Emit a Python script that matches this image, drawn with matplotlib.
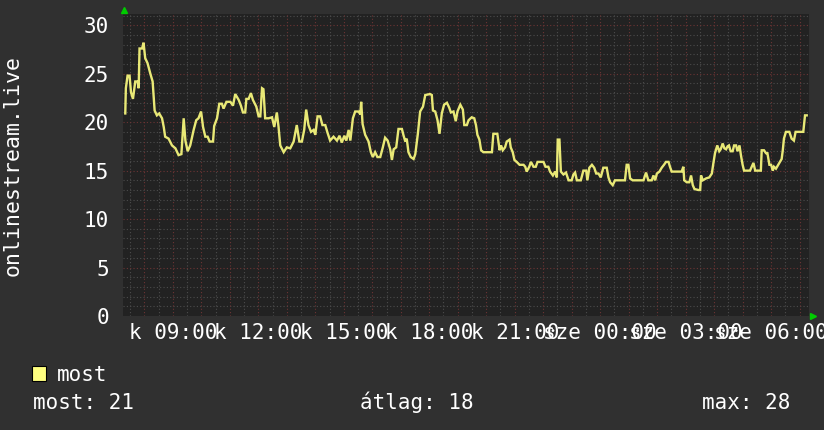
import numpy as np
import matplotlib
matplotlib.use("Agg")
import matplotlib.pyplot as plt
from matplotlib.patches import Rectangle

# hours since Tuesday 00:00 (24 h window) and viewer counts
hours = [
    7.33, 7.35, 7.41, 7.48, 7.53, 7.60, 7.68, 7.76, 7.80, 7.83, 7.92, 7.97,
    8.03, 8.11, 8.21, 8.29, 8.36, 8.44, 8.52, 8.62, 8.68, 8.73, 8.85, 8.97,
    9.09, 9.20, 9.30, 9.38, 9.44, 9.52, 9.61, 9.73, 9.82, 9.90, 9.99, 10.06,
    10.14, 10.22, 10.29, 10.41, 10.45, 10.55, 10.63, 10.72, 10.78, 10.88, 11.02, 11.11,
    11.19, 11.31, 11.39, 11.46, 11.54, 11.58, 11.66, 11.74, 11.81, 11.93, 12.01, 12.07,
    12.13, 12.18, 12.24, 12.36, 12.48, 12.56, 12.65, 12.71, 12.77, 12.89, 13.00, 13.12,
    13.24, 13.35, 13.44, 13.53, 13.61, 13.68, 13.76, 13.85, 13.94, 14.00, 14.08, 14.17,
    14.25, 14.35, 14.43, 14.52, 14.64, 14.76, 14.85, 14.93, 15.02, 15.09, 15.17, 15.23,
    15.32, 15.40, 15.52, 15.58, 15.61, 15.66, 15.75, 15.87, 15.95, 16.02, 16.10, 16.18,
    16.28, 16.37, 16.45, 16.54, 16.63, 16.69, 16.75, 16.84, 16.92, 17.04, 17.10, 17.16,
    17.21, 17.27, 17.35, 17.45, 17.51, 17.60, 17.68, 17.78, 17.86, 18.03, 18.09, 18.13,
    18.21, 18.29, 18.36, 18.44, 18.52, 18.62, 18.70, 18.76, 18.85, 18.93, 18.99, 19.09,
    19.18, 19.23, 19.32, 19.38, 19.49, 19.58, 19.64, 19.69, 19.76, 19.82, 19.90, 20.20,
    20.25, 20.39, 20.47, 20.52, 20.58, 20.66, 20.72, 20.82, 20.86, 20.93, 20.99, 21.07,
    21.17, 21.31, 21.37, 21.42, 21.51, 21.57, 21.66, 21.74, 21.80, 22.01, 22.08, 22.18,
    22.24, 22.34, 22.42, 22.48, 22.51, 22.57, 22.62, 22.71, 22.80, 22.89, 23.00, 23.06,
    23.12, 23.18, 23.32, 23.41, 23.51, 23.55, 23.62, 23.71, 23.79, 23.86, 23.94, 24.02,
    24.11, 24.23, 24.29, 24.35, 24.44, 24.52, 24.87, 24.93, 24.99, 25.05, 25.14, 25.52,
    25.61, 25.69, 25.81, 25.87, 25.93, 25.99, 26.08, 26.16, 26.24, 26.31, 26.40, 26.45,
    26.51, 26.86, 26.92, 26.95, 27.04, 27.13, 27.19, 27.25, 27.31, 27.45, 27.51, 27.54,
    27.60, 27.72, 27.83, 27.92, 27.97, 28.03, 28.11, 28.18, 28.23, 28.30, 28.36, 28.42,
    28.47, 28.52, 28.58, 28.65, 28.70, 28.77, 28.82, 28.89, 28.94, 29.00, 29.05, 29.26,
    29.32, 29.38, 29.44, 29.64, 29.67, 29.75, 29.82, 29.87, 29.94, 30.00, 30.06, 30.10,
    30.17, 30.25, 30.31, 30.37, 30.41, 30.45, 30.52, 30.64, 30.72, 30.80, 30.86, 31.13,
    31.19, 31.25,
]
viewers = [
    20.9, 23.5, 24.8, 24.8, 23.1, 22.4, 24.2, 24.2, 23.5, 27.6, 27.6, 28.2,
    26.6, 26.1, 25.0, 24.2, 21.2, 20.7, 20.9, 20.4, 19.5, 18.5, 18.3, 17.6,
    17.3, 16.6, 16.7, 20.4, 18.1, 17.0, 17.6, 19.2, 20.2, 20.4, 21.1, 19.5,
    18.5, 18.5, 18.0, 18.0, 19.6, 20.4, 21.9, 21.9, 21.4, 22.1, 22.1, 21.7,
    22.9, 22.3, 21.7, 21.0, 21.0, 22.4, 22.4, 23.0, 22.3, 21.6, 20.6, 20.6,
    23.5, 23.4, 20.4, 20.4, 20.5, 19.5, 21.0, 19.5, 17.6, 16.9, 17.4, 17.3,
    18.0, 19.7, 18.0, 18.0, 19.2, 21.3, 19.7, 19.0, 19.2, 18.7, 20.6, 20.6,
    19.7, 19.7, 18.9, 18.1, 18.5, 18.1, 18.6, 17.9, 18.6, 18.1, 19.2, 18.1,
    20.4, 21.1, 21.1, 20.8, 22.1, 19.8, 18.7, 18.0, 16.9, 16.4, 16.9, 16.4,
    16.4, 17.4, 18.4, 18.1, 17.2, 16.1, 17.2, 17.4, 19.3, 19.3, 18.6, 18.0,
    18.3, 16.9, 16.4, 16.2, 16.7, 18.8, 21.1, 21.6, 22.8, 22.9, 22.8, 21.2,
    21.1, 20.2, 18.8, 20.9, 21.8, 22.0, 21.5, 21.0, 21.1, 20.1, 21.1, 21.8,
    21.3, 19.7, 19.7, 20.2, 20.5, 20.4, 19.7, 18.7, 18.2, 17.1, 16.9, 16.9,
    18.8, 18.8, 17.1, 17.6, 17.1, 17.4, 18.0, 18.2, 17.4, 16.9, 16.1, 15.9,
    15.6, 15.6, 15.4, 14.9, 15.4, 15.9, 15.4, 15.4, 15.9, 15.9, 15.4, 15.4,
    14.9, 14.5, 14.9, 14.3, 18.2, 18.2, 14.9, 14.6, 14.8, 14.0, 14.0, 14.6,
    14.8, 14.0, 14.0, 15.0, 15.0, 14.0, 15.3, 15.6, 15.3, 14.7, 14.7, 14.3,
    15.3, 15.3, 14.3, 13.8, 13.5, 14.0, 14.0, 15.6, 15.6, 14.2, 14.0, 14.0,
    14.8, 14.0, 14.0, 14.5, 14.0, 14.7, 14.9, 15.3, 15.6, 15.9, 15.9, 15.4,
    14.9, 14.9, 15.4, 14.0, 13.8, 13.8, 14.5, 13.5, 13.1, 13.0, 13.0, 14.5,
    14.0, 14.2, 14.3, 14.7, 15.7, 16.8, 17.6, 17.0, 17.2, 17.8, 17.3, 17.2,
    17.5, 17.6, 17.0, 17.0, 17.6, 17.6, 17.0, 17.6, 16.6, 15.6, 15.0, 15.0,
    15.4, 15.8, 15.0, 15.0, 17.1, 17.1, 16.8, 16.8, 15.6, 15.6, 15.0, 15.4,
    15.2, 15.6, 15.9, 16.2, 17.1, 18.3, 19.0, 19.0, 18.3, 18.1, 19.0, 19.0,
    20.7, 20.7,
]

tick_hours = [9, 12, 15, 18, 21, 24, 27, 30]
tick_labels = ["k 09:00", "k 12:00", "k 15:00", "k 18:00",
               "k 21:00", "sze 00:00", "sze 03:00", "sze 06:00"]
y_ticks = [0, 5, 10, 15, 20, 25, 30]
y_title = "onlinestream.live"
legend_name = "most"
stat_names = ["most", "átlag", "max"]
stat_values = [21, 18, 28]

BG = "#303030"
PLOT_BG = "#222222"
GRID = "#4c4c4c"
MGRID = "#6c3434"
LINE = "#ffff80"
TXT = "#ffffff"
FS = 15

plt.rcParams["font.family"] = "DejaVu Sans Mono"

fig = plt.figure(figsize=(8.24, 4.30), dpi=100, facecolor=BG)
ax = fig.add_axes([123 / 824, 114 / 430, 686 / 824, 302 / 430])
ax.set_facecolor(PLOT_BG)
ax.set_xlim(7.25, 31.33)
ax.set_ylim(0, 31.16)

# dotted grid: gray every 30 min / 1 unit, red every hour / 5 units
dots = (0, (1, 2))
for h in np.arange(7.5, 31.5, 1.0):
    ax.axvline(h, color=GRID, lw=0.8, ls=dots, zorder=1)
for v in range(1, 32):
    if v % 5:
        ax.axhline(v, color=GRID, lw=0.8, ls=dots, zorder=1)
for h in range(8, 32):
    ax.axvline(h, color=MGRID, lw=0.8, ls=dots, zorder=1)
for v in y_ticks[1:]:
    ax.axhline(v, color=MGRID, lw=0.8, ls=dots, zorder=1)

ax.plot(hours, viewers, color=LINE, lw=1.7, alpha=0.9, zorder=3,
        solid_joinstyle="miter")

ax.set_xticks(tick_hours, tick_labels)
ax.set_yticks(y_ticks)
ax.tick_params(length=0, labelsize=FS, colors=TXT)
ax.tick_params(axis="y", pad=10)
ax.tick_params(axis="x", pad=5)
for s in ax.spines.values():
    s.set_visible(False)

# green axis arrows
ax.plot([0.002], [1.013], marker="^", ms=5, color="#00cc00",
        transform=ax.transAxes, clip_on=False)
ax.plot([1.006], [0.0], marker=">", ms=5, color="#00cc00",
        transform=ax.transAxes, clip_on=False)

fig.text(13 / 824, 1 - 165 / 430, y_title, rotation=90, ha="center",
         va="center", color=TXT, fontsize=15.5)

# legend
fig.patches.append(Rectangle((32 / 824, 1 - 381 / 430), 14 / 824, 15 / 430,
                             transform=fig.transFigure, facecolor=LINE,
                             edgecolor="black", lw=0.8))
fig.text(57 / 824, 1 - 381 / 430, legend_name, color=TXT, fontsize=FS,
         va="baseline")
stat_x = [33, 360, 702]
for name, val, x in zip(stat_names, stat_values, stat_x):
    fig.text(x / 824, 1 - 409 / 430, f"{name}: {val}", color=TXT,
             fontsize=FS, va="baseline")

fig.savefig("out.png", dpi=100, facecolor=BG)
